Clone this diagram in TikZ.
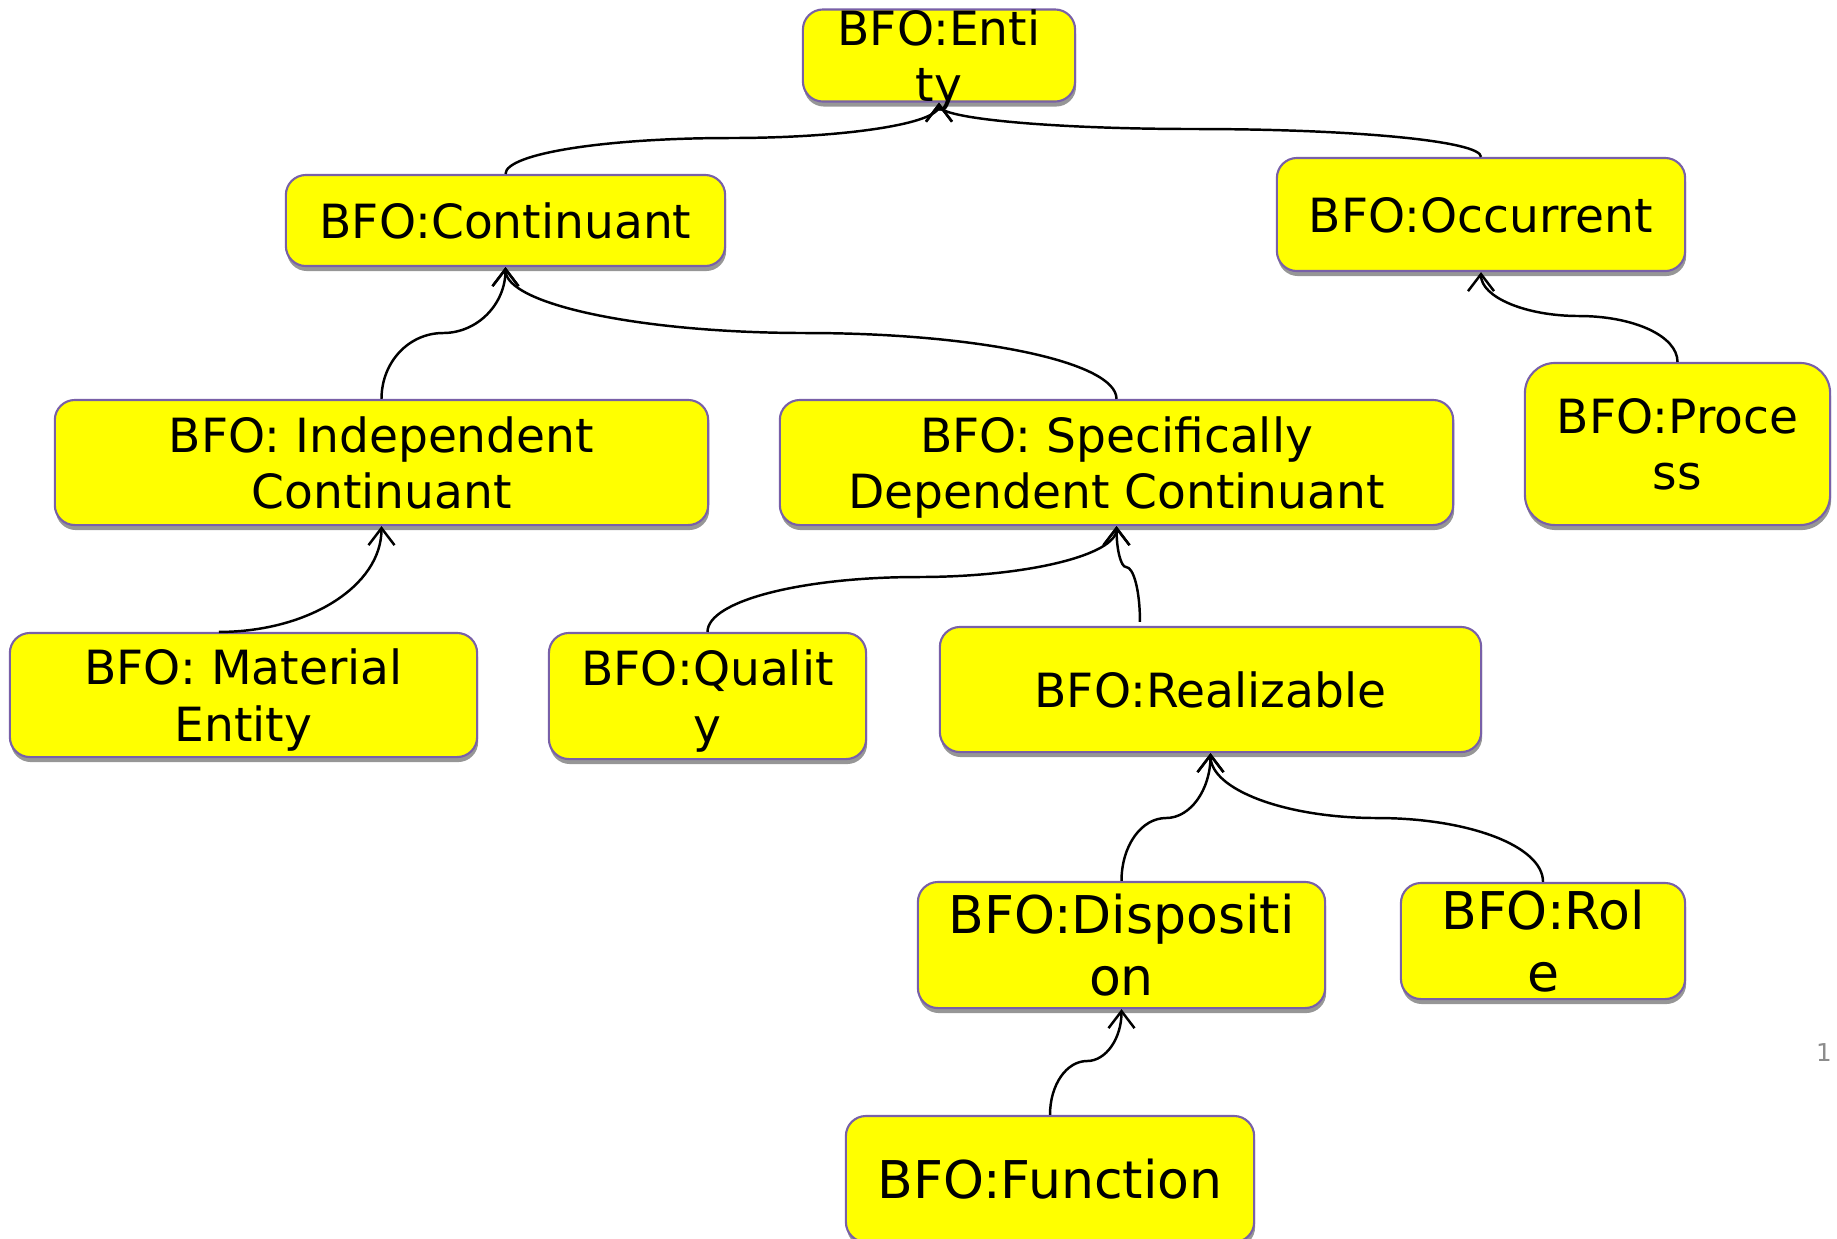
\documentclass[tikz,border=0pt]{standalone}
\usepackage{fontspec}
\setmainfont{DejaVu Sans}
\usetikzlibrary{arrows.meta,shadows}
\definecolor{boxfill}{RGB}{255,255,0}
\definecolor{boxedge}{RGB}{120,96,168}
\definecolor{shadowgray}{RGB}{150,150,150}
\definecolor{pagegray}{RGB}{140,140,140}

\tikzset{
  cls/.style={draw=boxedge, line width=0.6pt, fill=boxfill, rounded corners=0.2cm,
    inner sep=0pt, align=center, text depth=-2pt, font=\fontsize{13.4}{16}\selectfont,
    general shadow={fill=shadowgray, shadow xshift=0.01cm, shadow yshift=-0.05cm}},
  big/.style={font=\fontsize{14.8}{17.6}\selectfont},
  isa/.style={draw, line width=0.7pt, -{Straight Barb[length=1.7mm,width=2.6mm]}},
}

\begin{document}
\begin{tikzpicture}[x=0.01cm, y=-0.01cm]
\useasboundingbox (0,0) rectangle (1837,1238);

% classes
\node[cls, minimum width=2.72cm, minimum height=0.89cm] (ent) at (939,55.5) {BFO:Enti\\ty};
\node[cls, minimum width=4.39cm, minimum height=0.91cm] (cont) at (505.5,220.5) {BFO:Continuant};
\node[cls, minimum width=4.08cm, minimum height=1.13cm] (occ) at (1481,214.5) {BFO:Occurrent};
\node[cls, minimum width=6.53cm, minimum height=1.25cm] (ic) at (381.5,462.5) {BFO: Independent\\Continuant};
\node[cls, minimum width=6.73cm, minimum height=1.25cm] (sdc) at (1116.5,462.5) {BFO: Specifically\\Dependent Continuant};
\node[cls, rounded corners=0.3cm, minimum width=3.05cm, minimum height=1.62cm] (proc) at (1677.5,444) {BFO:Proce\\ss};
\node[cls, minimum width=4.67cm, minimum height=1.24cm] (me) at (243.5,695) {BFO: Material\\Entity};
\node[cls, minimum width=3.17cm, minimum height=1.26cm] (qual) at (707.5,696) {BFO:Qualit\\y};
\node[cls, minimum width=5.41cm, minimum height=1.25cm] (real) at (1210.5,689.5) {BFO:Realizable};
\node[cls, big, minimum width=4.07cm, minimum height=1.26cm] (disp) at (1121.5,945) {BFO:Dispositi\\on};
\node[cls, big, minimum width=2.84cm, minimum height=1.16cm] (role) at (1543,941) {BFO:Rol\\e};
\node[cls, big, minimum width=4.08cm, minimum height=1.26cm] (func) at (1050,1179) {BFO:Function};

\node[text=pagegray, font=\fontsize{7}{8}\selectfont] (pg) at (1824,1052) {1};

% subclass links: two quarter-ellipse bends joined at a level point
\draw[isa] (cont.north) .. controls +(0,-20.4) and +(-124,0) .. (730,138)
                        .. controls +(115.4,0) and +(0,21) .. (ent.south);
\draw[isa] (occ.north) .. controls +(0,-16) and +(158,0) .. (1195,129)
                       .. controls +(-141.3,0) and +(0,16) .. (ent.south);
\draw[isa] (ic.north) .. controls +(0,-37) and +(-34,0) .. (443,333)
                      .. controls +(34.5,0) and +(0,37) .. (cont.south);
\draw[isa] (sdc.north) .. controls +(0,-37) and +(171.4,0) .. (806,333)
                       .. controls +(-165.9,0) and +(0,37) .. (cont.south);
\draw[isa] (proc.north) .. controls +(0,-26) and +(54.4,0) .. (1579,316)
                        .. controls +(-54.1,0) and +(0,24.8) .. (occ.south);
\draw[isa] ([xshift=-0.245cm]me.north) .. controls +(89.7,0) and +(0,59.6) .. (ic.south);
\draw[isa] (qual.north) .. controls +(0,-30.9) and +(-116.2,0) .. (918,577)
                        .. controls +(109.6,0) and +(0,28.7) .. (sdc.south);
\draw[isa] ([xshift=-0.705cm,yshift=0.04cm]real.north) .. controls +(0,-30.9) and +(7.7,0) .. (1126,567)
                        .. controls +(-5.2,0) and +(0,23.2) .. (sdc.south);
\draw[isa] (disp.north) .. controls +(0,-35.3) and +(-24.6,0) .. (1166,818)
                        .. controls +(24.6,0) and +(0,36.4) .. (real.south);
\draw[isa] (role.north) .. controls +(0,-35.9) and +(91.6,0) .. (1377,818)
                        .. controls +(-91.9,0) and +(0,36.4) .. (real.south);
\draw[isa] (func.north) .. controls +(0,-30.4) and +(-20.4,0) .. (1087,1061)
                        .. controls +(19,0) and +(0,29.3) .. (disp.south);
\end{tikzpicture}
\end{document}
